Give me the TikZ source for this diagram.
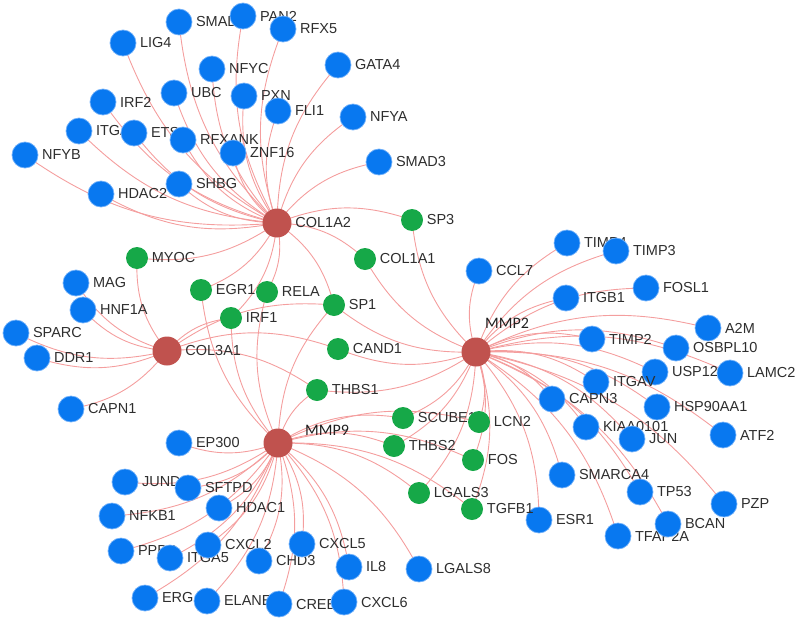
\documentclass[tikz,border=0pt]{standalone}
\usepackage{fontspec}
\setmainfont{Liberation Sans}
\newfontfamily\hubfont{Carlito}
\usetikzlibrary{backgrounds}
\definecolor{nblue}{RGB}{8,120,240}
\definecolor{nblueedge}{RGB}{110,175,250}
\definecolor{ngreen}{RGB}{22,168,72}
\definecolor{nhub}{RGB}{192,82,78}
\definecolor{nedge}{RGB}{244,158,158}
\begin{document}
\begin{tikzpicture}[x=1pt,y=-1pt,
 leaf/.style={circle,fill=nblue,draw=nblueedge,line width=0.7pt,minimum size=26pt,inner sep=0pt},
 gnode/.style={circle,fill=ngreen,minimum size=22pt,inner sep=0pt},
 hub/.style={circle,fill=nhub,minimum size=29pt,inner sep=0pt},
 lab/.style={font=\fontsize{14.5}{14.5}\selectfont, text=black!82, inner sep=1.5pt},
 hublab/.style={font=\hubfont\fontsize{16}{16}\selectfont, text=black!88, inner sep=0pt, anchor=west},
 every label/.style={lab},
 label distance=2pt,
 edgeline/.style={draw=nedge,line width=0.9pt, bend left=20}]
\useasboundingbox (0,0) rectangle (800,621);
% hubs
\node[hub,label=right:COL1A2] (col1a2) at (277,223) {};
\node[hub,label=right:COL3A1] (col3a1) at (167,351) {};
\node[hub] (mmp9) at (278,443) {};
\node[hub] (mmp2) at (476,352) {};
\node[hublab] (mmp9l) at (305,430) {MMP9};
\node[hublab] (mmp2l) at (485,323) {MMP2};
% COL1A2 leaves
\node[leaf,label=right:LIG4] (lig4) at (123,43) {};
\node[leaf,label=right:SMAD4] (smad4) at (179,22) {};
\node[leaf,label=right:PAN2] (pan2) at (243,16) {};
\node[leaf,label=right:RFX5] (rfx5) at (283,29) {};
\node[leaf,label=right:NFYC] (nfyc) at (212,69) {};
\node[leaf,label=right:GATA4] (gata4) at (338,65) {};
\node[leaf,label=right:UBC] (ubc) at (174,93) {};
\node[leaf,label=right:PXN] (pxn) at (244,96) {};
\node[leaf,label=right:FLI1] (fli1) at (278,111) {};
\node[leaf,label=right:NFYA] (nfya) at (353,117) {};
\node[leaf,label=right:IRF2] (irf2) at (103,102) {};
\node[leaf,label=right:ITGA2] (itga2) at (79,131) {};
\node[leaf,label=right:ETS1] (ets1) at (134,133) {};
\node[leaf,label=right:RFXANK] (rfxank) at (183,140) {};
\node[leaf,label=right:ZNF16] (znf16) at (233,153) {};
\node[leaf,label=right:NFYB] (nfyb) at (25,155) {};
\node[leaf,label=right:SMAD3] (smad3) at (379,162) {};
\node[leaf,label=right:SHBG] (shbg) at (179,184) {};
\node[leaf,label=right:HDAC2] (hdac2) at (101,194) {};
% COL3A1 leaves
\node[leaf,label=right:MAG] (mag) at (76,283) {};
\node[leaf,label=right:HNF1A] (hnf1a) at (83,310) {};
\node[leaf,label=right:SPARC] (sparc) at (16,333) {};
\node[leaf,label=right:DDR1] (ddr1) at (37,358) {};
\node[leaf,label=right:CAPN1] (capn1) at (71,409) {};
% MMP9 leaves
\node[leaf,label=right:EP300] (ep300) at (179,443) {};
\node[leaf,label=right:JUND] (jund) at (125,482) {};
\node[leaf,label=right:SFTPD] (sftpd) at (188,488) {};
\node[leaf,label=right:NFKB1] (nfkb1) at (112,516) {};
\node[leaf,label=right:HDAC1] (hdac1) at (219,508) {};
\node[leaf,label=right:PPBP] (ppbp) at (121,551) {};
\node[leaf,label=right:ITGA5] (itga5) at (170,558) {};
\node[leaf,label=right:CXCL2] (cxcl2) at (208,545) {};
\node[leaf,label=right:CHD3] (chd3) at (259,561) {};
\node[leaf,label=right:CXCL5] (cxcl5) at (302,544) {};
\node[leaf,label=right:IL8] (il8) at (349,567) {};
\node[leaf,label=right:ERG] (erg) at (145,598) {};
\node[leaf,label=right:ELANE] (elane) at (207,601) {};
\node[leaf,label=right:CREBBP] (crebbp) at (279,604) {};
\node[leaf,label=right:CXCL6] (cxcl6) at (344,602) {};
\node[leaf,label=right:LGALS8] (lgals8) at (419,569) {};
% MMP2 leaves
\node[leaf,label=right:TIMP4] (timp4) at (567,243) {};
\node[leaf,label=right:TIMP3] (timp3) at (616,251) {};
\node[leaf,label=right:CCL7] (ccl7) at (479,271) {};
\node[leaf,label=right:FOSL1] (fosl1) at (646,288) {};
\node[leaf,label=right:ITGB1] (itgb1) at (566,298) {};
\node[leaf,label=right:A2M] (a2m) at (708,328) {};
\node[leaf,label=right:TIMP2] (timp2) at (592,339) {};
\node[leaf,label=right:OSBPL10] (osbpl10) at (676,348) {};
\node[leaf,label=right:USP12] (usp12) at (655,372) {};
\node[leaf,label=right:LAMC2] (lamc2) at (730,373) {};
\node[leaf,label=right:ITGAV] (itgav) at (596,382) {};
\node[leaf,label=right:CAPN3] (capn3) at (552,399) {};
\node[leaf,label=right:HSP90AA1] (hsp90aa1) at (657,407) {};
\node[leaf,label=right:KIAA0101] (kiaa0101) at (586,427) {};
\node[leaf,label=right:JUN] (jun) at (632,439) {};
\node[leaf,label=right:ATF2] (atf2) at (723,435) {};
\node[leaf,label=right:SMARCA4] (smarca4) at (562,475) {};
\node[leaf,label=right:TP53] (tp53) at (640,492) {};
\node[leaf,label=right:PZP] (pzp) at (724,504) {};
\node[leaf,label=right:ESR1] (esr1) at (539,520) {};
\node[leaf,label=right:TFAP2A] (tfap2a) at (618,536) {};
\node[leaf,label=right:BCAN] (bcan) at (668,524) {};
% green shared nodes
\node[gnode,label=right:SP3] (sp3) at (412,220) {};
\node[gnode,label=right:COL1A1] (col1a1) at (365,259) {};
\node[gnode,label=right:MYOC] (myoc) at (137,258) {};
\node[gnode,label=right:EGR1] (egr1) at (201,290) {};
\node[gnode,label=right:RELA] (rela) at (267,292) {};
\node[gnode,label=right:SP1] (sp1) at (334,305) {};
\node[gnode,label=right:IRF1] (irf1) at (231,318) {};
\node[gnode,label=right:CAND1] (cand1) at (338,349) {};
\node[gnode,label=right:THBS1] (thbs1) at (317,390) {};
\node[gnode,label=right:SCUBE1] (scube1) at (403,418) {};
\node[gnode,label=right:LCN2] (lcn2) at (479,422) {};
\node[gnode,label=right:THBS2] (thbs2) at (394,446) {};
\node[gnode,label=right:FOS] (fos) at (473,460) {};
\node[gnode,label=right:LGALS3] (lgals3) at (419,493) {};
\node[gnode,label=right:TGFB1] (tgfb1) at (472,509) {};
% edges
\begin{scope}[on background layer]
\foreach \h/\l in {col1a2/lig4,col1a2/smad4,col1a2/pan2,col1a2/rfx5,col1a2/nfyc,col1a2/gata4,
 col1a2/ubc,col1a2/pxn,col1a2/fli1,col1a2/nfya,col1a2/irf2,col1a2/itga2,col1a2/ets1,col1a2/rfxank,
 col1a2/znf16,col1a2/nfyb,col1a2/smad3,col1a2/shbg,col1a2/hdac2,
 col1a2/sp3,col1a2/col1a1,col1a2/myoc,col1a2/egr1,col1a2/rela,col1a2/sp1,col1a2/irf1,
 col3a1/mag,col3a1/hnf1a,col3a1/sparc,col3a1/ddr1,col3a1/capn1,
 col3a1/myoc,col3a1/irf1,col3a1/sp1,col3a1/cand1,col3a1/thbs1,
 mmp9/ep300,mmp9/jund,mmp9/sftpd,mmp9/nfkb1,mmp9/hdac1,mmp9/ppbp,mmp9/itga5,mmp9/cxcl2,
 mmp9/chd3,mmp9/cxcl5,mmp9/il8,mmp9/erg,mmp9/elane,mmp9/crebbp,mmp9/cxcl6,mmp9/lgals8,
 mmp9/egr1,mmp9/rela,mmp9/irf1,mmp9/sp1,mmp9/thbs1,mmp9/scube1,mmp9/thbs2,mmp9/lcn2,
 mmp9/fos,mmp9/lgals3,mmp9/tgfb1,
 mmp2/timp4,mmp2/timp3,mmp2/ccl7,mmp2/fosl1,mmp2/itgb1,mmp2/a2m,mmp2/timp2,mmp2/osbpl10,
 mmp2/usp12,mmp2/lamc2,mmp2/itgav,mmp2/capn3,mmp2/hsp90aa1,mmp2/kiaa0101,mmp2/jun,mmp2/atf2,
 mmp2/smarca4,mmp2/tp53,mmp2/pzp,mmp2/esr1,mmp2/tfap2a,mmp2/bcan,
 mmp2/sp3,mmp2/col1a1,mmp2/sp1,mmp2/cand1,mmp2/thbs1,mmp2/scube1,mmp2/thbs2,mmp2/lcn2,
 mmp2/fos,mmp2/lgals3,mmp2/tgfb1}
 \draw[edgeline] (\h.center) to (\l.center);
\end{scope}
\end{tikzpicture}
\end{document}
